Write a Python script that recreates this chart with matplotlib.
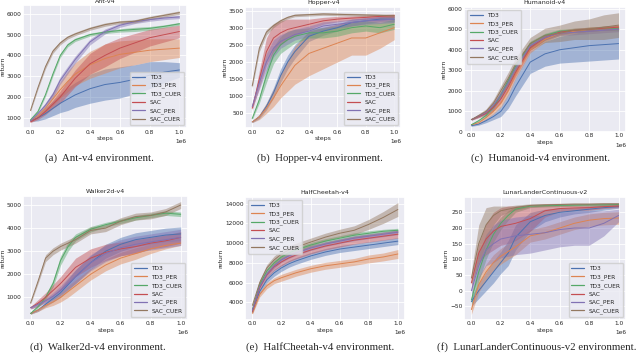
import numpy as np
import matplotlib
matplotlib.use("Agg")
import matplotlib.pyplot as plt
import seaborn as sns

sns.set_theme(style="darkgrid")
plt.rcParams['font.family'] = ['DejaVu Sans']

# training steps (x 1e6)
steps = [0.0, 0.05, 0.1, 0.15, 0.2, 0.25, 0.3, 0.4, 0.5, 0.6, 0.7, 0.8, 0.9, 1.0]
algos = ["TD3", "TD3_PER", "TD3_CUER", "SAC", "SAC_PER", "SAC_CUER"]
colors = sns.color_palette("deep", 6)

# Ant-v4
ant_mean = {
    "TD3":      [850, 1000, 1200, 1450, 1700, 1900, 2100, 2400, 2600, 2700, 2850, 3050, 3200, 3300],
    "TD3_PER":  [850, 1100, 1450, 1900, 2350, 2750, 3100, 3550, 3850, 4050, 4150, 4250, 4300, 4350],
    "TD3_CUER": [900, 1300, 2100, 3100, 4000, 4500, 4750, 5000, 5120, 5200, 5250, 5300, 5400, 5520],
    "SAC":      [800, 1000, 1300, 1650, 2000, 2450, 2900, 3600, 4000, 4350, 4600, 4850, 5000, 5150],
    "SAC_PER":  [850, 1200, 1600, 2100, 2800, 3300, 3800, 4650, 5150, 5450, 5620, 5720, 5800, 5850],
    "SAC_CUER": [1350, 2450, 3450, 4200, 4600, 4870, 5030, 5290, 5480, 5600, 5640, 5800, 5930, 6060],
}
ant_spread = {
    "TD3":      [30, 150, 250, 350, 450, 550, 600, 700, 750, 750, 700, 650, 500, 350],
    "TD3_PER":  [30, 100, 200, 300, 400, 500, 550, 650, 700, 650, 600, 550, 500, 450],
    "TD3_CUER": [40, 60, 80, 100, 100, 90, 80, 70, 70, 80, 100, 90, 70, 70],
    "SAC":      [30, 80, 150, 200, 300, 350, 400, 500, 550, 500, 450, 400, 350, 300],
    "SAC_PER":  [30, 80, 120, 150, 180, 180, 170, 140, 120, 100, 90, 80, 80, 80],
    "SAC_CUER": [50, 80, 100, 100, 90, 80, 80, 80, 80, 70, 80, 80, 80, 80],
}

# Hopper-v4
hopper_mean = {
    "TD3":      [250, 400, 700, 1100, 1600, 2000, 2300, 2750, 2900, 3000, 3150, 3200, 3250, 3250],
    "TD3_PER":  [250, 400, 650, 950, 1300, 1600, 1900, 2250, 2400, 2550, 2700, 2700, 2850, 3000],
    "TD3_CUER": [350, 900, 1600, 2200, 2500, 2650, 2750, 2850, 2850, 2900, 3000, 3050, 3000, 3100],
    "SAC":      [650, 1500, 2300, 2700, 2850, 2950, 3000, 3100, 3200, 3250, 3280, 3300, 3330, 3350],
    "SAC_PER":  [700, 1400, 2000, 2400, 2600, 2700, 2800, 2900, 3050, 3100, 3150, 3200, 3220, 3250],
    "SAC_CUER": [1300, 2400, 2870, 3060, 3200, 3300, 3360, 3380, 3400, 3390, 3380, 3370, 3360, 3350],
}
hopper_spread = {
    "TD3":      [20, 50, 100, 150, 200, 200, 200, 150, 120, 100, 100, 80, 80, 80],
    "TD3_PER":  [20, 80, 150, 250, 350, 450, 550, 650, 600, 550, 500, 500, 450, 350],
    "TD3_CUER": [30, 100, 200, 250, 250, 250, 200, 150, 150, 150, 150, 150, 150, 150],
    "SAC":      [50, 250, 400, 400, 350, 300, 250, 150, 100, 80, 60, 60, 50, 50],
    "SAC_PER":  [50, 200, 250, 250, 200, 180, 160, 150, 120, 100, 100, 100, 100, 100],
    "SAC_CUER": [60, 100, 80, 60, 50, 40, 40, 40, 40, 40, 40, 40, 40, 40],
}

# Humanoid-v4
humanoid_mean = {
    "TD3":      [300, 380, 550, 750, 1000, 1500, 2200, 3400, 3800, 4000, 4100, 4200, 4250, 4300],
    "TD3_PER":  [350, 450, 700, 1000, 1400, 2000, 2800, 4000, 4500, 4800, 4900, 5000, 5050, 5100],
    "TD3_CUER": [350, 550, 800, 1200, 1800, 2500, 3200, 4300, 4700, 4900, 4950, 5000, 5050, 5050],
    "SAC":      [600, 750, 900, 1200, 1600, 2200, 2900, 4100, 4600, 4850, 4950, 5000, 5050, 5100],
    "SAC_PER":  [600, 780, 950, 1300, 1800, 2400, 3100, 4200, 4600, 4800, 4850, 4900, 4950, 5000],
    "SAC_CUER": [600, 800, 1000, 1400, 2000, 2600, 3300, 4300, 4700, 4800, 4950, 5000, 5100, 5200],
}
humanoid_spread = {
    "TD3":      [30, 50, 100, 150, 250, 350, 450, 550, 600, 650, 700, 750, 750, 750],
    "TD3_PER":  [30, 50, 80, 120, 180, 200, 200, 150, 120, 100, 100, 100, 100, 100],
    "TD3_CUER": [30, 50, 80, 120, 150, 150, 150, 120, 100, 100, 100, 100, 100, 100],
    "SAC":      [30, 60, 100, 150, 200, 200, 200, 150, 120, 100, 100, 100, 100, 100],
    "SAC_PER":  [30, 60, 100, 150, 200, 200, 200, 150, 130, 120, 120, 120, 120, 120],
    "SAC_CUER": [30, 80, 120, 180, 250, 300, 300, 300, 350, 400, 450, 500, 600, 600],
}

# Walker2d-v4
walker_mean = {
    "TD3":      [300, 450, 700, 950, 1200, 1550, 1900, 2500, 3000, 3300, 3500, 3600, 3700, 3750],
    "TD3_PER":  [300, 450, 650, 800, 1000, 1250, 1500, 2000, 2400, 2700, 2900, 3100, 3250, 3350],
    "TD3_CUER": [300, 600, 1000, 1600, 2600, 3200, 3600, 3950, 4150, 4300, 4450, 4550, 4650, 4600],
    "SAC":      [550, 750, 1000, 1300, 1600, 1950, 2300, 2700, 2950, 3100, 3200, 3350, 3450, 3600],
    "SAC_PER":  [550, 700, 850, 1050, 1300, 1600, 1900, 2500, 2900, 3150, 3300, 3400, 3500, 3600],
    "SAC_CUER": [750, 1700, 2700, 3000, 3200, 3350, 3500, 3900, 4000, 4300, 4500, 4550, 4700, 5000],
}
walker_spread = {
    "TD3":      [30, 60, 100, 150, 200, 250, 300, 300, 300, 300, 300, 300, 300, 300],
    "TD3_PER":  [30, 60, 100, 150, 200, 250, 250, 250, 250, 250, 250, 200, 150, 100],
    "TD3_CUER": [30, 60, 100, 150, 200, 200, 150, 120, 100, 100, 100, 100, 100, 100],
    "SAC":      [50, 150, 200, 250, 300, 350, 400, 400, 350, 300, 300, 250, 250, 250],
    "SAC_PER":  [50, 80, 100, 150, 200, 250, 300, 350, 350, 350, 350, 350, 350, 350],
    "SAC_CUER": [50, 100, 150, 150, 150, 150, 150, 150, 150, 150, 150, 150, 150, 150],
}

# HalfCheetah-v4
cheetah_mean = {
    "TD3":      [3000, 5100, 6300, 7000, 7500, 7900, 8200, 8700, 9100, 9400, 9600, 9800, 10000, 10200],
    "TD3_PER":  [2900, 4800, 5700, 6200, 6500, 6750, 7000, 7400, 7700, 7900, 8100, 8400, 8600, 8900],
    "TD3_CUER": [3300, 5800, 7200, 8000, 8600, 9000, 9300, 9800, 10200, 10500, 10800, 11000, 11200, 11300],
    "SAC":      [3100, 5500, 6800, 7600, 8100, 8500, 8800, 9300, 9700, 10000, 10300, 10500, 10700, 10900],
    "SAC_PER":  [3200, 5600, 6900, 7700, 8300, 8700, 9000, 9500, 9900, 10200, 10500, 10700, 10900, 11100],
    "SAC_CUER": [3700, 6000, 7500, 8300, 8900, 9300, 9600, 10100, 10600, 11000, 11300, 11900, 12600, 13400],
}
cheetah_spread = {
    "TD3":      [100, 250, 300, 350, 350, 350, 350, 350, 350, 350, 350, 350, 350, 350],
    "TD3_PER":  [100, 250, 300, 300, 350, 350, 350, 350, 350, 350, 350, 400, 400, 450],
    "TD3_CUER": [100, 250, 250, 250, 250, 250, 250, 250, 250, 250, 250, 250, 200, 200],
    "SAC":      [100, 250, 300, 350, 400, 400, 400, 400, 400, 400, 400, 400, 400, 400],
    "SAC_PER":  [100, 200, 250, 250, 250, 250, 250, 250, 250, 250, 250, 250, 250, 250],
    "SAC_CUER": [150, 300, 350, 400, 400, 400, 400, 400, 400, 400, 450, 500, 600, 700],
}

# LunarLanderContinuous-v2
lunar_mean = {
    "TD3":      [-35, 0, 30, 60, 90, 120, 170, 220, 240, 250, 255, 260, 265, 268],
    "TD3_PER":  [-60, 20, 60, 90, 110, 125, 140, 175, 185, 200, 215, 225, 230, 232],
    "TD3_CUER": [-30, 60, 130, 180, 215, 240, 260, 270, 271, 272, 273, 274, 274, 275],
    "SAC":      [25, 120, 165, 190, 205, 210, 215, 230, 255, 262, 264, 265, 268, 270],
    "SAC_PER":  [0, 80, 130, 150, 165, 170, 175, 180, 185, 195, 200, 200, 215, 240],
    "SAC_CUER": [40, 150, 210, 240, 255, 260, 265, 272, 274, 275, 276, 276, 277, 277],
}
lunar_spread = {
    "TD3":      [15, 25, 30, 35, 35, 40, 40, 30, 20, 15, 10, 10, 8, 5],
    "TD3_PER":  [15, 25, 25, 25, 25, 25, 25, 20, 20, 20, 20, 20, 20, 20],
    "TD3_CUER": [15, 30, 30, 25, 20, 15, 10, 5, 4, 4, 4, 4, 4, 4],
    "SAC":      [15, 30, 50, 60, 60, 60, 55, 40, 20, 10, 8, 8, 6, 5],
    "SAC_PER":  [15, 40, 50, 60, 60, 60, 60, 60, 55, 55, 55, 55, 40, 20],
    "SAC_CUER": [20, 60, 55, 30, 15, 10, 8, 5, 4, 4, 4, 4, 4, 4],
}

panels = [
    ("Ant-v4", ant_mean, ant_spread, "lower right", [0.036, 0.639, 0.256, 0.346],
     "(a)  Ant-v4 environment.", 0.156, 0.553),
    ("Hopper-v4", hopper_mean, hopper_spread, "lower right", [0.383, 0.639, 0.244, 0.341],
     "(b)  Hopper-v4 environment.", 0.5, 0.553),
    ("Humanoid-v4", humanoid_mean, humanoid_spread, "upper left", [0.725, 0.628, 0.253, 0.352],
     "(c)  Humanoid-v4 environment.", 0.845, 0.553),
    ("Walker2d-v4", walker_mean, walker_spread, "lower right", [0.036, 0.099, 0.258, 0.349],
     "(d)  Walker2d-v4 environment.", 0.153, 0.023),
    ("HalfCheetah-v4", cheetah_mean, cheetah_spread, "upper left", [0.383, 0.099, 0.25, 0.346],
     "(e)  HalfCheetah-v4 environment.", 0.5, 0.023),
    ("LunarLanderContinuous-v2", lunar_mean, lunar_spread, "lower right", [0.725, 0.099, 0.253, 0.346],
     "(f)  LunarLanderContinuous-v2 environment.", 0.838, 0.023),
]

fig = plt.figure(figsize=(6.4, 3.55), dpi=100)
x = np.array(steps) * 1e6

for title, mean, spread, loc, rect, caption, cx, cy in panels:
    ax = fig.add_axes(rect)
    for algo, c in zip(algos, colors):
        m = np.array(mean[algo], dtype=float)
        s = np.array(spread[algo], dtype=float)
        ax.plot(x, m, color=c, lw=0.7, label=algo)
        ax.fill_between(x, m - s, m + s, color=c, alpha=0.45, lw=0)
    ax.set_title(title, fontsize=4.5, pad=2)
    ax.set_xlabel("steps", fontsize=4.5, labelpad=1)
    ax.set_ylabel("return", fontsize=4.5, labelpad=1)
    ax.tick_params(labelsize=4.2, pad=1, length=0)
    ax.xaxis.get_offset_text().set_fontsize(4.2)
    ax.grid(color="white", lw=0.6)
    leg = ax.legend(loc=loc, fontsize=4.2, handlelength=2.2, borderpad=0.5,
                    labelspacing=0.5, framealpha=0.8)
    for line in leg.get_lines():
        line.set_linewidth(0.9)
    fig.text(cx, cy, caption, ha="center", va="center", fontsize=7.8,
             family="Liberation Serif")

fig.savefig("out.png", dpi=100, facecolor="white")
